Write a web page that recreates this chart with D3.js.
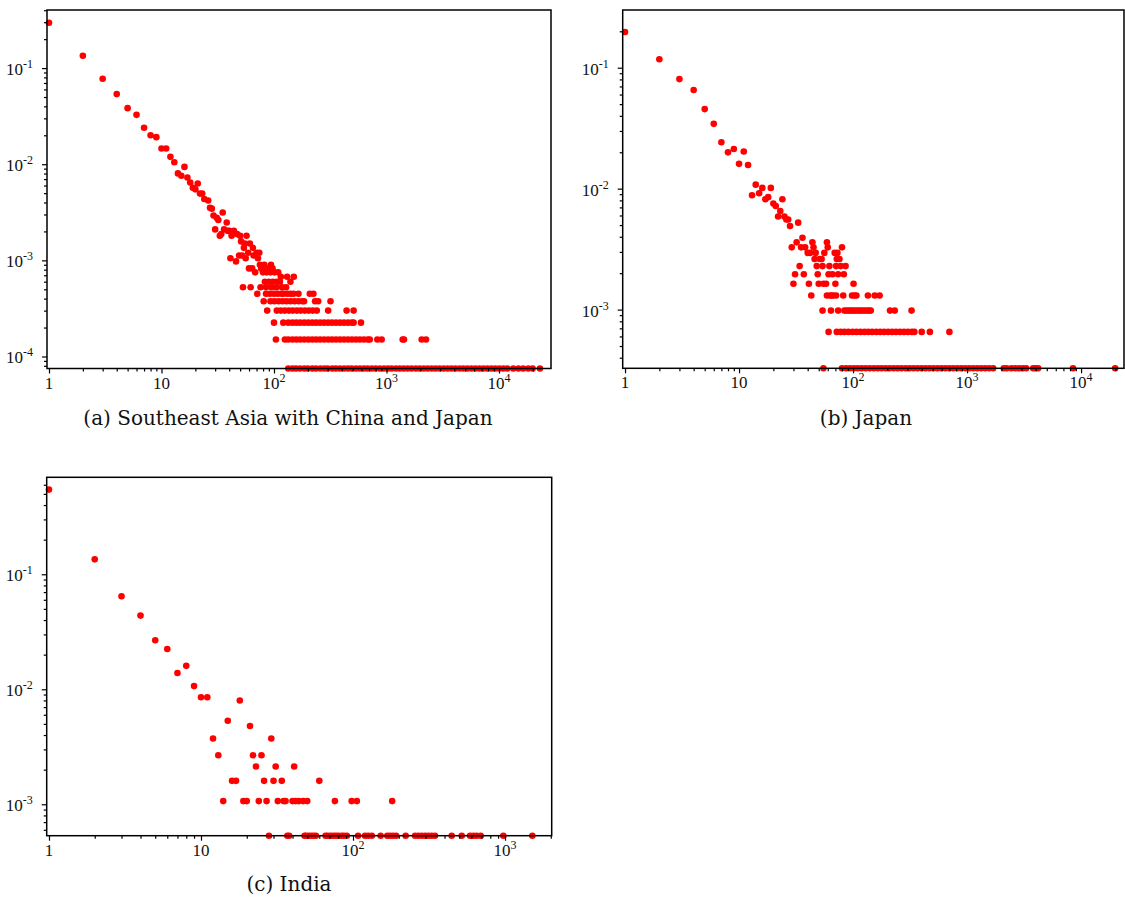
<!DOCTYPE html>
<html>
<head>
<meta charset="utf-8">
<title>Degree distributions</title>
<script src="https://cdn.jsdelivr.net/npm/d3@7"></script>
<style>
  body { margin: 0; background: #fff; }
  .tick line { stroke: #000; stroke-width: 1.2px; }
  .ticklabel { font-family: "Liberation Serif", serif; font-size: 17px; fill: #111; }
  .caption { font-family: "DejaVu Serif", serif; font-size: 20px; fill: #111; }
  .dot { fill: #ff0000; }
</style>
</head>
<body>
<svg id="chart" width="1125" height="905"></svg>
<script>
// ---- data: [degree, count] for the head, [count, [degrees...]] for the flat rows ----

// (a) Southeast Asia with China and Japan
var asiaTotal = 13333;
var asiaHead = [[1,3954],[2,1791],[3,1032],[4,715],[5,511],[6,435],[7,319],[8,267],[9,255],
  [10,194],[11,194],[12,159],[13,140],[14,107],[15,101],[16,125],[17,97],[18,86],[19,76],
  [20,73],[21,84],[22,66],[23,66],[24,58],[26,56],[27,47],[28,46],[29,39],[30,28],[31,37],
  [32,35],[33,24],[34,25],[35,42],[36,28],[38,33],[39,27],[40,27],[41,14],[42,24],[44,27],
  [46,13],[47,25],[49,15],[50,24],[51,21],[52,15],[53,7],[54,18],[55,20],[56,14],[57,24],
  [59,16],[60,11],[61,20],[64,11],[65,18],[66,15],[68,10],[70,16],[72,14],[74,16],[75,12],
  [77,11],[80,10]];
var asiaRows = [
  [1, [134,146,157,170,186,200,219,236,258,280,300,330,355,385,420,455,490,535,580,630,680,
       740,800,870,950,1030,1110,1210,1310,1420,1540,1670,1820,1970,2140,2320,2520,2730,2960,
       3220,3490,3780,4100,4460,4830,5240,5690,6170,6700,7270,7890,8560,9280,10070,10930,11860,
       13400,14900,16400,18200,19900,23100]],
  [2, [104,125,134,146,158,171,186,202,219,237,257,279,303,328,356,386,419,455,493,535,580,
       630,683,710,829,906,1393,1430,2055,2245]],
  [3, [100,121,134,146,158,171,186,202,219,237,257,279,303,328,356,386,419,455,493,510,593]],
  [4, [87,106,115,125,136,147,160,173,188,204,221,240,303,442,510]],
  [5, [81,93,101,110,119,129,140,152,165,179,185,232,247,318]],
  [6, [71,85,92,100,108,117,121,131,140,149,165,208,224]],
  [7, [62,76,85,95,105,118,128]],
  [8, [83,90,98,106,113,140]],
  [9, [115,131,150]],
  [10, [86,93,101,109]],
  [11, [78,89,97]],
  [12, [82,94]]
];

// (b) Japan
var japanTotal = 3057;
var japanHead = [[1,603],[2,359],[3,246],[4,200],[5,139],[6,105],[7,74],[8,61],[9,65],[10,49],
  [11,62],[12,48],[13,27],[14,33],[15,28],[16,31],[17,25],[18,26],[19,31],[20,23],[21,22],
  [22,18],[23,20],[24,25],[25,18],[26,17],[27,17],[28,15],[33,16]];
var japanRows = [
  [1, [55,80,87,94,102,110,119,129,140,152,165,178,193,209,227,246,266,289,313,339,367,398,
       431,467,506,549,595,645,699,757,821,890,964,1045,1133,1228,1331,1442,1563,1694,2100,2230,
       2450,2650,2870,3100,3300,3800,4000,4200,8500,19900]],
  [2, [61,72,78,84,91,99,107,116,126,136,147,160,173,187,203,220,238,258,280,303,328,345,400,
       472,700]],
  [3, [54,64,74,84,88,92,96,100,105,110,115,120,126,132,138,143,211,232,326]],
  [4, [43,59,63,65,67,71,82,98,103,107,135,155,171]],
  [5, [30,41,50,55,58,70,101]],
  [6, [31,37,49,61,66,74,83]],
  [7, [34,48,54,62,71,78,86]],
  [8, [46,51,53,72,76]],
  [9, [40,42,47,56,69,73]],
  [10, [29,35,38,45,60,80]],
  [11, [32,44,59]],
  [12, [36]]
];

// (c) India
var indiaTotal = 1876;
var indiaHead = [[1,1022],[2,253],[3,121],[4,82],[5,50],[6,42],[7,26],[8,30],[9,20],[10,16],
  [11,16],[12,7],[13,5],[15,10],[18,15],[21,9],[29,7]];
var indiaRows = [
  [1, [28,37,38,48,49,51,53,55,57,66,68,71,74,77,80,84,87,91,108,120,126,133,152,168,175,183,
       192,222,256,269,283,298,313,329,346,446,519,589,620,651,692,975,1513]],
  [2, [14,19,20,24,27,32,35,36,40,42,44,47,50,76,98,106,181]],
  [3, [16,17,26,30,34,60]],
  [4, [23,31,41]],
  [5, [22,25]]
];

// ---- layout ----
var panels = [
  { head: asiaHead, rows: asiaRows, total: asiaTotal,
    left: 47, right: 551, top: 10, bottom: 368.5,
    xDomain: [0.96, 29000], yDomain: [1 / asiaTotal, 0.402],
    caption: "(a) Southeast Asia with China and Japan", capX: 288, capY: 425 },
  { head: japanHead, rows: japanRows, total: japanTotal,
    left: 622.7, right: 1124, top: 10, bottom: 368.3,
    xDomain: [0.954, 23800], yDomain: [1 / japanTotal, 0.300],
    caption: "(b) Japan", capX: 866, capY: 425 },
  { head: indiaHead, rows: indiaRows, total: indiaTotal,
    left: 46.7, right: 551.7, top: 477.3, bottom: 835.7,
    xDomain: [0.966, 2028], yDomain: [1 / indiaTotal, 0.697],
    caption: "(c) India", capX: 289, capY: 891 }
];

var svg = d3.select("#chart");

function decadeTicks(domain) {
  var lo = Math.floor(Math.log10(domain[0])), hi = Math.ceil(Math.log10(domain[1]));
  var major = [], minor = [];
  for (var n = lo; n <= hi; n++) {
    for (var m = 1; m <= 9; m++) {
      var v = m * Math.pow(10, n);
      if (v < domain[0] || v > domain[1]) continue;
      if (m === 1) major.push(v); else minor.push(v);
    }
  }
  return { major: major, minor: minor };
}

function addPowerLabel(sel, v) {
  var n = Math.round(Math.log10(v));
  if (n === 0) { sel.text("1"); return; }
  if (n === 1) { sel.text("10"); return; }
  sel.append("tspan").text("10");
  sel.append("tspan").attr("dy", -7).attr("font-size", "12px").text(n < 0 ? "-" + (-n) : n);
}

panels.forEach(function(p) {
  var x = d3.scaleLog().domain(p.xDomain).range([p.left, p.right]);
  var y = d3.scaleLog().domain(p.yDomain).range([p.bottom, p.top]);
  var g = svg.append("g");

  var pts = [];
  p.head.forEach(function(d) { pts.push({ deg: d[0], frac: d[1] / p.total }); });
  p.rows.forEach(function(r) {
    r[1].forEach(function(deg) { pts.push({ deg: deg, frac: r[0] / p.total }); });
  });

  g.selectAll(".dot")
    .data(pts)
    .enter().append("circle")
    .attr("class", "dot")
    .attr("cx", function(d) { return x(d.deg); })
    .attr("cy", function(d) { return y(d.frac); })
    .attr("r", 3.3);

  // ticks
  var xt = decadeTicks(p.xDomain), yt = decadeTicks(p.yDomain);
  g.append("g").attr("transform", "translate(0," + p.bottom + ")")
    .call(d3.axisBottom(x).tickValues(xt.minor).tickSize(3).tickFormat(""))
    .call(function(a) { a.select(".domain").remove(); });
  g.append("g").attr("transform", "translate(0," + p.bottom + ")")
    .call(d3.axisBottom(x).tickValues(xt.major).tickSize(5).tickFormat(""))
    .call(function(a) { a.select(".domain").remove(); });
  g.append("g").attr("transform", "translate(" + p.left + ",0)")
    .call(d3.axisLeft(y).tickValues(yt.minor).tickSize(3).tickFormat(""))
    .call(function(a) { a.select(".domain").remove(); });
  g.append("g").attr("transform", "translate(" + p.left + ",0)")
    .call(d3.axisLeft(y).tickValues(yt.major).tickSize(5).tickFormat(""))
    .call(function(a) { a.select(".domain").remove(); });

  // frame
  g.append("rect")
    .attr("x", p.left).attr("y", p.top)
    .attr("width", p.right - p.left).attr("height", p.bottom - p.top)
    .attr("fill", "none").attr("stroke", "#000").attr("stroke-width", 1.5);

  // tick labels
  xt.major.forEach(function(v) {
    var t = g.append("text").attr("class", "ticklabel")
      .attr("x", x(v)).attr("y", p.bottom + 20)
      .attr("text-anchor", "middle");
    addPowerLabel(t, v);
  });
  yt.major.forEach(function(v) {
    var t = g.append("text").attr("class", "ticklabel")
      .attr("x", p.left - 14).attr("y", y(v) + 7)
      .attr("text-anchor", "end");
    addPowerLabel(t, v);
  });

  g.append("text").attr("class", "caption")
    .attr("x", p.capX).attr("y", p.capY)
    .attr("text-anchor", "middle")
    .text(p.caption);
});
</script>
</body>
</html>
